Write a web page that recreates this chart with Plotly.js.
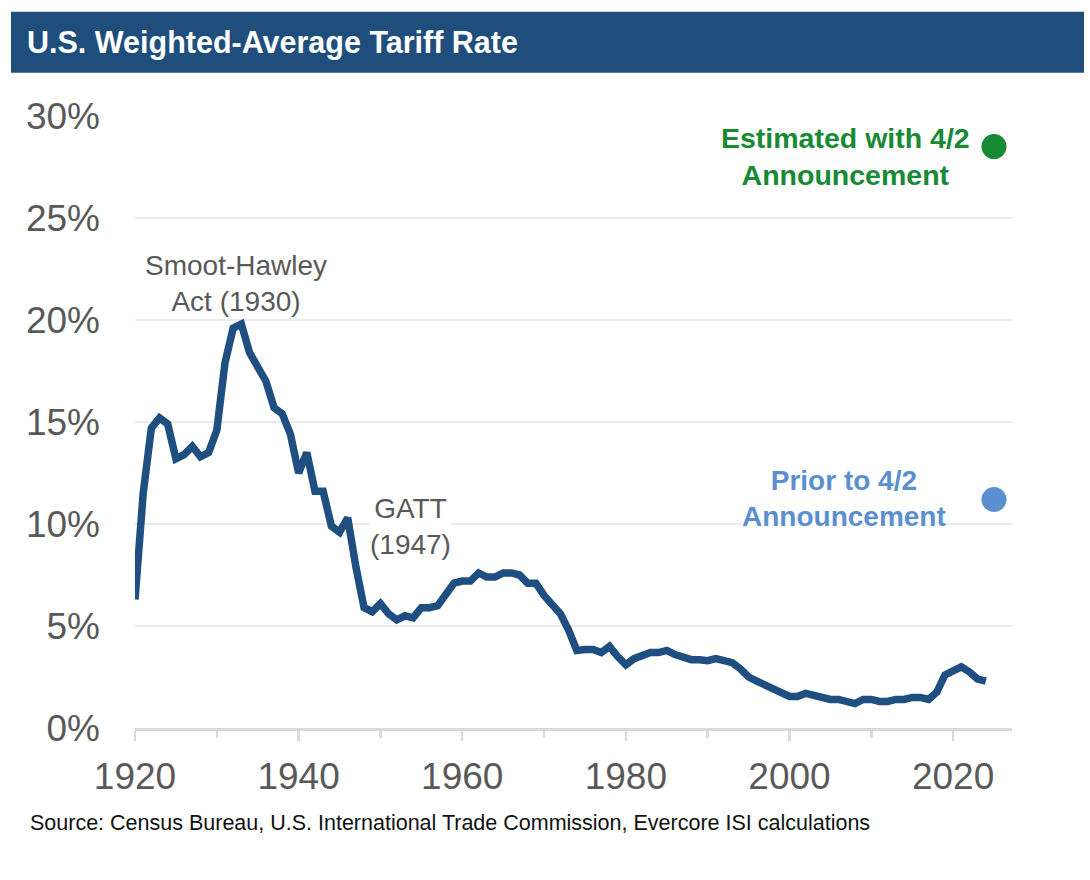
<!DOCTYPE html>
<html>
<head>
<meta charset="utf-8">
<script src="https://cdn.plot.ly/plotly-3.0.1.min.js"></script>
<style>
  html, body { margin: 0; padding: 0; background: #fff; }
  #chart { width: 1090px; height: 880px; }
</style>
</head>
<body>
<div id="chart"></div>
<script>
// annual weighted-average tariff rate, %
const years = [
  1920, 1921, 1922, 1923, 1924, 1925, 1926, 1927, 1928, 1929,
  1930, 1931, 1932, 1933, 1934, 1935, 1936, 1937, 1938, 1939,
  1940, 1941, 1942, 1943, 1944, 1945, 1946, 1947, 1948, 1949,
  1950, 1951, 1952, 1953, 1954, 1955, 1956, 1957, 1958, 1959,
  1960, 1961, 1962, 1963, 1964, 1965, 1966, 1967, 1968, 1969,
  1970, 1971, 1972, 1973, 1974, 1975, 1976, 1977, 1978, 1979,
  1980, 1981, 1982, 1983, 1984, 1985, 1986, 1987, 1988, 1989,
  1990, 1991, 1992, 1993, 1994, 1995, 1996, 1997, 1998, 1999,
  2000, 2001, 2002, 2003, 2004, 2005, 2006, 2007, 2008, 2009,
  2010, 2011, 2012, 2013, 2014, 2015, 2016, 2017, 2018, 2019,
  2020, 2021, 2022, 2023, 2024
];
const tariffRate = [
  6.3, 11.5, 14.7, 15.2, 14.9, 13.2, 13.4, 13.8, 13.3, 13.5,
  14.6, 17.9, 19.6, 19.8, 18.4, 17.6, 17.0, 15.7, 15.4, 14.4,
  12.5, 13.5, 11.6, 11.6, 9.9, 9.6, 10.3, 7.9, 5.9, 5.7,
  6.1, 5.6, 5.3, 5.5, 5.4, 5.9, 5.9, 6.0, 6.6, 7.1,
  7.2, 7.2, 7.6, 7.4, 7.4, 7.6, 7.6, 7.5, 7.1, 7.1,
  6.5, 6.1, 5.6, 4.8, 3.8, 3.85, 3.85, 3.7, 4.0, 3.5,
  3.1, 3.4, 3.6, 3.7, 3.7, 3.8, 3.6, 3.45, 3.35, 3.35,
  3.3, 3.4, 3.3, 3.2, 2.9, 2.5, 2.3, 2.1, 1.9, 1.7,
  1.55, 1.55, 1.7, 1.6, 1.5, 1.4, 1.4, 1.3, 1.2, 1.4,
  1.4, 1.3, 1.3, 1.4, 1.4, 1.5, 1.5, 1.4, 1.75, 2.6,
  2.8, 3.0, 2.75, 2.4, 2.3
];

// 2025 estimates
const estYear = [2025];
const estimatedRate = [28.5];
const priorRate = [11.2];

const yTicks = [0, 5, 10, 15, 20, 25, 30];
const yTickText = ["0%", "5%", "10%", "15%", "20%", "25%", "30%"];

const lineColor = "#1f4e80";
const green = "#178a33";
const lightBlue = "#5b8fd1";
const grayText = "#595959";
const font = "Liberation Sans, Arial, Helvetica, sans-serif";

const traces = [
  {
    x: years, y: tariffRate, type: "scatter", mode: "lines",
    line: { color: lineColor, width: 7.5, shape: "linear" },
    hoverinfo: "skip",
  },
  {
    x: estYear, y: estimatedRate, type: "scatter", mode: "markers",
    marker: { color: green, size: 25 }, cliponaxis: false,
  },
  {
    x: estYear, y: priorRate, type: "scatter", mode: "markers",
    marker: { color: lightBlue, size: 25 }, cliponaxis: false,
  },
];

let layout = {
  width: 1090,
  height: 880,
  paper_bgcolor: "#ffffff",
  plot_bgcolor: "#ffffff",
  showlegend: false,
  margin: { l: 135, r: 78, t: 116, b: 152 },
  font: { family: font, color: grayText },
  title: {
    text: "<b>U.S. Weighted-Average Tariff Rate</b>",
    xref: "container", yref: "container",
    x: 0.0248, xanchor: "left",
    y: 0.952, yanchor: "middle",
    font: { family: font, size: 30.5, color: "#ffffff" },
  },
  xaxis: {
    range: [1920, 2027.2],
    tick0: 1920, dtick: 20,
    ticks: "outside", ticklen: 10, tickwidth: 2.5, tickcolor: "#d9d9d9",
    minor: { dtick: 10, tick0: 1920, ticks: "outside", ticklen: 7, tickwidth: 2.5, tickcolor: "#d9d9d9" },
    showline: true, linecolor: "#d9d9d9", linewidth: 3,
    showgrid: false, zeroline: false,
    tickfont: { family: font, size: 37, color: grayText },
    ticklabelstandoff: 4,
  },
  yaxis: {
    range: [0, 30],
    tickvals: yTicks, ticktext: yTickText,
    ticks: "",
    showgrid: true, gridcolor: "#ebebeb", gridwidth: 2,
    zeroline: false, showline: false,
    tickfont: { family: font, size: 37, color: grayText },
    ticklabelstandoff: 34,
  },
  shapes: [
    {
      type: "rect", xref: "paper", yref: "paper",
      x0: -0.1414, x1: 1.0821, y0: 1.0708, y1: 1.1704,
      fillcolor: "#1f4e7d", line: { width: 0 },
    },
  ],
  annotations: [
    {
      x: 1932.4, y: 21.8, xref: "x", yref: "y",
      text: "Smoot-Hawley<br>Act (1930)", showarrow: false,
      xanchor: "center", yanchor: "middle",
      font: { family: font, size: 28, color: grayText },
    },
    {
      x: 1953.7, y: 9.9, xref: "x", yref: "y",
      text: "GATT<br>(1947)", showarrow: false,
      xanchor: "center", yanchor: "middle", bgcolor: "#ffffff", borderpad: 0,
      font: { family: font, size: 28, color: grayText },
    },
    {
      x: 2006.8, y: 28.0, xref: "x", yref: "y",
      text: "<b>Estimated with 4/2<br>Announcement</b>", showarrow: false,
      xanchor: "center", yanchor: "middle",
      font: { family: font, size: 28.5, color: green },
    },
    {
      x: 2006.7, y: 11.25, xref: "x", yref: "y",
      text: "<b>Prior to 4/2<br>Announcement</b>", showarrow: false,
      xanchor: "center", yanchor: "middle", bgcolor: "#ffffff", borderpad: 0,
      font: { family: font, size: 28, color: lightBlue },
    },
    {
      x: -0.122, y: -0.155, xref: "paper", yref: "paper",
      text: "Source: Census Bureau, U.S. International Trade Commission, Evercore ISI calculations",
      showarrow: false, xanchor: "left", yanchor: "middle",
      font: { family: font, size: 21.5, color: "#111111" },
    },
  ],
};

Plotly.newPlot("chart", traces, layout, { displayModeBar: false, staticPlot: true });
</script>
</body>
</html>
